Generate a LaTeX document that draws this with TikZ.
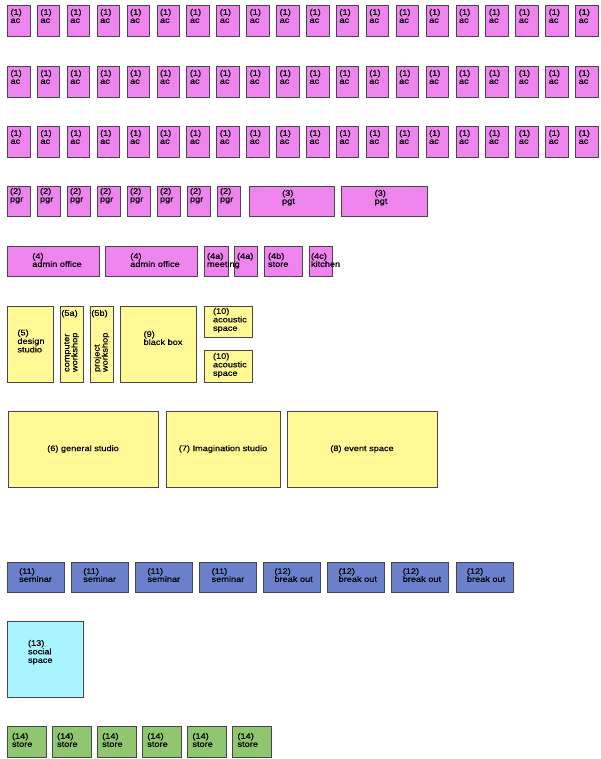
\documentclass[tikz,border=0pt]{standalone}
\usepackage{fontspec}
\setmainfont{Liberation Sans}[FakeStretch=1.15,FakeBold=0.5]
\begin{document}
\definecolor{edge}{RGB}{74,68,76}
\definecolor{pinkfill}{RGB}{238,132,238}
\definecolor{yellowfill}{RGB}{255,250,150}
\definecolor{bluefill}{RGB}{106,128,204}
\definecolor{cyanfill}{RGB}{168,244,255}
\definecolor{greenfill}{RGB}{144,198,112}
\tikzset{
  room/.style={draw=edge, line width=0.9pt, inner sep=0pt, outer sep=0pt, anchor=north west},
  pinkroom/.style={room, fill=pinkfill},
  yellowroom/.style={room, fill=yellowfill},
  blueroom/.style={room, fill=bluefill},
  cyanroom/.style={room, fill=cyanfill},
  greenroom/.style={room, fill=greenfill},
  lbl/.style={inner sep=0pt, outer sep=0pt, align=left, anchor=north west,
    font=\fontsize{8}{8}\selectfont, text=black},
  lbltall/.style={lbl, font=\fontsize{8}{8.5}\selectfont}
}
\begin{tikzpicture}[x=1pt,y=-1pt]
\useasboundingbox[fill=white] (0,0) rectangle (600,759);

% (1) ac -- three rows of twenty
\foreach \r/\yy in {1/5,2/66,3/126}{
  \foreach \i in {0,...,19}{
    \node[pinkroom, minimum width=22.5, minimum height=31] (ac-\r-\i) at ({7.5+29.9*\i},\yy) {};
    \node[lbl] (acl-\r-\i) at ([xshift=3,yshift=-4]ac-\r-\i.north west) {(1)\\ac};
  }
}

% (2) pgr and (3) pgt
\foreach \i in {0,...,7}{
  \node[pinkroom, minimum width=23, minimum height=30] (pgr-\i) at ({7+30*\i},186) {};
  \node[lbl] (pgrl-\i) at ([xshift=3,yshift=-2]pgr-\i.north west) {(2)\\pgr};
}
\node[pinkroom, minimum width=85, minimum height=30] (pgt-1) at (249,186) {};
\node[lbl, anchor=north] (pgtl-1) at ([xshift=-3,yshift=-4]pgt-1.north) {(3)\\pgt};
\node[pinkroom, minimum width=86, minimum height=30] (pgt-2) at (341,186) {};
\node[lbl, anchor=north] (pgtl-2) at ([xshift=-3,yshift=-4]pgt-2.north) {(3)\\pgt};

% (4) admin row
\node[pinkroom, minimum width=92, minimum height=30] (adm-1) at (7,246) {};
\node[lbl, anchor=center] (adml-1) at ([xshift=4,yshift=1]adm-1.center) {(4)\\admin office};
\node[pinkroom, minimum width=92, minimum height=30] (adm-2) at (105,246) {};
\node[lbl, anchor=center] (adml-2) at ([xshift=4,yshift=1]adm-2.center) {(4)\\admin office};
\node[pinkroom, minimum width=24, minimum height=30] (meet-1) at (204,246) {};
\node[pinkroom, minimum width=23, minimum height=30] (meet-2) at (234,246) {};
\node[pinkroom, minimum width=38, minimum height=30] (store4) at (264,246) {};
\node[pinkroom, minimum width=23, minimum height=30] (kitchen) at (309,246) {};
\node[lbl] (meetl-1) at ([xshift=3,yshift=-7]meet-1.north west) {(4a)\\meeting};
\node[lbl] (meetl-2) at ([xshift=3,yshift=-7]meet-2.north west) {(4a)};
\node[lbl] (store4l) at ([xshift=4,yshift=-7]store4.north west) {(4b)\\store};
\node[lbl] (kitchenl) at ([xshift=2,yshift=-7]kitchen.north west) {(4c)\\kitchen};

% studios and workshops
\node[yellowroom, minimum width=46, minimum height=76] (design) at (7,306) {};
\node[lbltall, anchor=center] (designl) at ([xshift=1,yshift=3]design.center) {(5)\\design\\studio};
\node[yellowroom, minimum width=23, minimum height=76] (comp) at (60,306) {};
\node[lbl, anchor=north] (compl) at ([xshift=-2,yshift=-4]comp.north) {(5a)};
\node[lbl, rotate=90, anchor=west] (comprot) at ([yshift=10]comp.south) {computer\\workshop};
\node[yellowroom, minimum width=23, minimum height=76] (proj) at (90,306) {};
\node[lbl, anchor=north] (projl) at ([xshift=-2,yshift=-4]proj.north) {(5b)};
\node[lbl, rotate=90, anchor=west] (projrot) at ([yshift=10]proj.south) {project\\workshop};
\node[yellowroom, minimum width=76, minimum height=76] (blackbox) at (120,306) {};
\node[lbl, anchor=center] (blackboxl) at ([xshift=5,yshift=6]blackbox.center) {(9)\\black box};
\node[yellowroom, minimum width=48, minimum height=31] (acou-1) at (204,306) {};
\node[lbltall] (acoul-1) at ([xshift=9,yshift=-2]acou-1.north west) {(10)\\acoustic\\space};
\node[yellowroom, minimum width=48, minimum height=32] (acou-2) at (204,350) {};
\node[lbltall] (acoul-2) at ([xshift=9,yshift=-3]acou-2.north west) {(10)\\acoustic\\space};

% large studios
\node[yellowroom, minimum width=150, minimum height=76] (general) at (8,411) {};
\node[lbl, anchor=center] (generall) at (general.center) {(6) general studio};
\node[yellowroom, minimum width=114, minimum height=76] (imag) at (166,411) {};
\node[lbl, anchor=center] (imagl) at (imag.center) {(7) Imagination studio};
\node[yellowroom, minimum width=150, minimum height=76] (event) at (287,411) {};
\node[lbl, anchor=center] (eventl) at (event.center) {(8) event space};

% (11) seminar and (12) break out
\foreach \i in {0,...,3}{
  \node[blueroom, minimum width=57, minimum height=30] (sem-\i) at ({7+64.15*\i},562) {};
  \node[lbl, anchor=center] (seml-\i) at ([yshift=2]sem-\i.center) {(11)\\seminar};
}
\foreach \i in {4,...,7}{
  \node[blueroom, minimum width=57, minimum height=30] (brk-\i) at ({7+64.15*\i},562) {};
  \node[lbl, anchor=center] (brkl-\i) at ([xshift=1.5,yshift=2]brk-\i.center) {(12)\\break out};
}

% (13) social space
\node[cyanroom, minimum width=76, minimum height=76] (social) at (7,621) {};
\node[lbltall] (sociall) at ([xshift=21,yshift=-19]social.north west) {(13)\\social\\space};

% (14) stores
\foreach \i in {0,...,5}{
  \node[greenroom, minimum width=39, minimum height=31] (st-\i) at ({7+45.1*\i},726) {};
  \node[lbl] (stl-\i) at ([xshift=5,yshift=-7]st-\i.north west) {(14)\\store};
}
\end{tikzpicture}
\end{document}
